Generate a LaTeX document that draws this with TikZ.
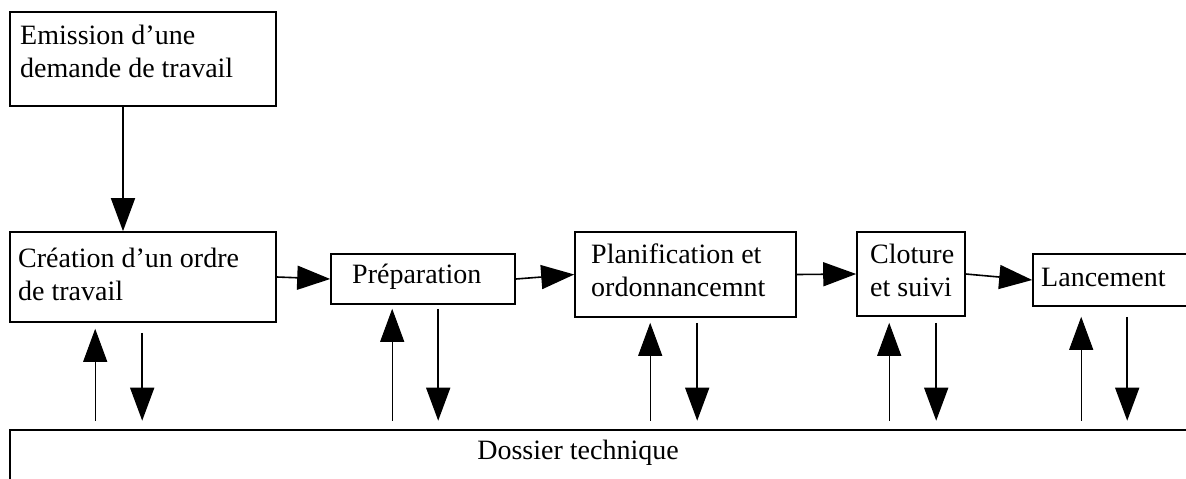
\documentclass[tikz,border=0pt]{standalone}
\usepackage{fontspec}
\setmainfont{Liberation Serif}
\usetikzlibrary{arrows.meta}
\tikzset{
	box/.style={draw,line width=1.6pt,inner sep=0pt},
	lbl/.style={inner sep=0pt,align=left,font=\fontsize{28}{33}\selectfont},
	flow/.style={line width=1.6pt,-{Triangle[length=33pt,width=24pt]}},
	upflow/.style={line width=1pt,-{Triangle[length=33pt,width=24pt]}}
}
\begin{document}
\begin{tikzpicture}[x=1pt,y=-1pt]
		\useasboundingbox (0,0) rectangle (1186,479);
		\node[box,minimum width=266pt,minimum height=94pt] (emission) at (143,59) {};
		\node[box,minimum width=266pt,minimum height=90pt] (creation) at (143,277) {};
		\node[box,minimum width=184pt,minimum height=50pt] (preparation) at (423,279) {};
		\node[box,minimum width=221pt,minimum height=85pt] (planification) at (685.5,274.5) {};
		\node[box,minimum width=108pt,minimum height=84pt] (cloture) at (911,274) {};
		\node[box,minimum width=167pt,minimum height=52pt] (lancement) at (1116.5,280) {};
		\node[box,line width=2.6pt,minimum width=1184pt,minimum height=80pt] (dossier) at (602,470) {};
		\node[lbl,anchor=north west] (emissionlbl) at (20,25) {Emission d'une\\demande de travail};
		\node[lbl,anchor=north west] (creationlbl) at (18,248) {Création d'un ordre\\de travail};
		\node[lbl,anchor=west] (preparationlbl) at (352,277) {Préparation};
		\node[lbl,anchor=north west] (planificationlbl) at (591,244) {Planification et\\ordonnancemnt};
		\node[lbl,anchor=north west] (cloturelbl) at (870,244) {Cloture\\et suivi};
		\node[lbl,anchor=west] (lancementlbl) at (1041,277) {Lancement};
		\node[lbl] (dossierlbl) at (578,453) {Dossier technique};
		\coordinate (E) at ([xshift=-20pt]emission.south);
		\draw[flow] (E) -- (E |- creation.north);
		\draw[flow] (creation.east) -- (preparation.west);
		\draw[flow] (preparation.east) -- (planification.west);
		\draw[flow] (planification.east) -- (cloture.west);
		\draw[flow] (cloture.east) -- (lancement.west);
		\foreach \b/\u/\d/\g/\h in {creation/86/133/6/10,preparation/62/108/4/4,planification/76/123/5/5,cloture/33/80/6/6,lancement/49/95/10/10}{
			\coordinate (U) at ([xshift=\u pt]\b.south west);
			\coordinate (D) at ([xshift=\d pt]\b.south west);
			\draw[upflow,shorten <=8pt,shorten >=\g pt] (U |- dossier.north) -- (U);
			\draw[flow,shorten <=\h pt,shorten >=8pt] (D) -- (D |- dossier.north);
		}
	\end{tikzpicture}
\end{document}
